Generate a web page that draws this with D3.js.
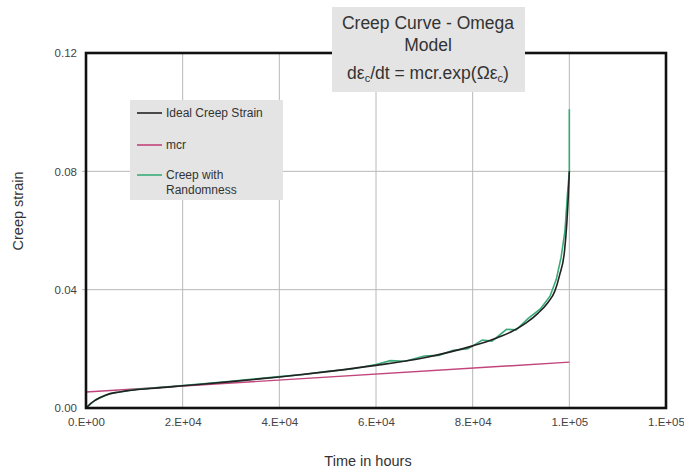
<!DOCTYPE html>
<html><head><meta charset="utf-8">
<script src="https://cdn.jsdelivr.net/npm/d3@7"></script>
<style>body{margin:0;background:#fff;} text{font-family:"Liberation Sans",Arial,sans-serif;}</style>
</head><body>
<svg id="c" width="684" height="471"></svg>
<script>
// Data
const idealT = [0,1000,2000,4000,6000,8000,10000,15000,20000,30000,40000,50000,60000,70000,80000,85000,88000,91000,93500,95500,97000,98000,99000,99500,99800,100000];
const idealS = [0,0.0016,0.0027,0.0043,0.0052,0.0057,0.0061,0.0068,0.0075,0.0089,0.0105,0.0123,0.0144,0.0170,0.0210,0.0237,0.0258,0.0287,0.0320,0.0355,0.0395,0.0450,0.0530,0.0630,0.0720,0.0800];
const mcrT = [0,100000];
const mcrS = [0.0054,0.0155];
const randT = [0,2000,5000,10000,20000,30000,40000,45000,50000,55000,60000,63000,66000,70000,73000,76000,79000,82000,84000,87000,89000,91500,94000,96000,97300,98300,99100,99600,100000,100000];
const randS = [0,0.0028,0.0049,0.0062,0.0076,0.0090,0.0106,0.0113,0.0124,0.0132,0.0147,0.0160,0.0158,0.0176,0.0178,0.0195,0.0200,0.0230,0.0226,0.0266,0.0264,0.0303,0.0335,0.0378,0.0435,0.0510,0.0600,0.0720,0.0800,0.1010];
const xTicks = [0,20000,40000,60000,80000,100000,120000];
const xTickLabels = ["0.E+00","2.E+04","4.E+04","6.E+04","8.E+04","1.E+05","1.E+05"];
const yTicks = [0,0.04,0.08,0.12];
const yTickLabels = ["0.00","0.04","0.08","0.12"];
const legendNames = ["Ideal Creep Strain","mcr","Creep with|Randomness"];
const colors = ["#222222","#c2447c","#3aaa78"];

const svg = d3.select("#c");
const L=86,R=666,T=53,B=408;
const x = d3.scaleLinear().domain([0,120000]).range([L,R]);
const y = d3.scaleLinear().domain([0,0.12]).range([B,T]);

// grid
const g = svg.append("g");
g.selectAll(".vg").data(xTicks.slice(1,-1)).join("line")
  .attr("x1",d=>x(d)).attr("x2",d=>x(d)).attr("y1",T).attr("y2",B)
  .attr("stroke","#b8b8b8").attr("stroke-width",1);
g.selectAll(".hg").data(yTicks.slice(1,-1)).join("line")
  .attr("x1",L-4).attr("x2",R).attr("y1",d=>y(d)).attr("y2",d=>y(d))
  .attr("stroke","#b8b8b8").attr("stroke-width",1);

// axes labels via d3 axes
const xAxis = d3.axisBottom(x).tickValues(xTicks).tickFormat((d,i)=>xTickLabels[i]).tickSize(0).tickPadding(10);
const ax = svg.append("g").attr("transform",`translate(0,${B})`).call(xAxis);
ax.select(".domain").remove();
ax.selectAll("text").attr("font-size",11.5).attr("fill","#444").style("font-family","Liberation Sans, Arial, sans-serif");
const yAxis = d3.axisLeft(y).tickValues(yTicks).tickFormat((d,i)=>yTickLabels[i]).tickSize(0).tickPadding(9);
const ay = svg.append("g").attr("transform",`translate(${L},0)`).call(yAxis);
ay.select(".domain").remove();
ay.selectAll("text").attr("font-size",11.5).attr("fill","#444").style("font-family","Liberation Sans, Arial, sans-serif");

// lines
const line = d3.line().x(d=>x(d[0])).y(d=>y(d[1]));
svg.append("path").datum(mcrT.map((t,i)=>[t,mcrS[i]])).attr("d",line)
  .attr("fill","none").attr("stroke",colors[1]).attr("stroke-width",1.4);
svg.append("path").datum(randT.map((t,i)=>[t,randS[i]])).attr("d",line.curve(d3.curveLinear))
  .attr("fill","none").attr("stroke",colors[2]).attr("stroke-width",1.6);
svg.append("path").datum(idealT.map((t,i)=>[t,idealS[i]]))
  .attr("d",d3.line().x(d=>x(d[0])).y(d=>y(d[1])).curve(d3.curveMonotoneX))
  .attr("fill","none").attr("stroke",colors[0]).attr("stroke-width",1.6);

// border
svg.append("rect").attr("x",L).attr("y",T).attr("width",R-L).attr("height",B-T)
  .attr("fill","none").attr("stroke","#111").attr("stroke-width",2.6);

// axis titles
svg.append("text").attr("x",(L+R)/2-8).attr("y",466).attr("text-anchor","middle")
  .attr("font-size",14.5).attr("fill","#333").text("Time in hours");
svg.append("text").attr("transform","translate(23,211) rotate(-90)").attr("text-anchor","middle")
  .attr("font-size",14.5).attr("fill","#333").text("Creep strain");

// title box
svg.append("rect").attr("x",332).attr("y",7).attr("width",193).attr("height",85).attr("fill","#e4e4e4");
const tc=428;
svg.append("text").attr("x",tc).attr("y",29).attr("text-anchor","middle").attr("font-size",17.5).attr("fill","#333").text("Creep Curve - Omega");
svg.append("text").attr("x",tc).attr("y",51).attr("text-anchor","middle").attr("font-size",17.5).attr("fill","#333").text("Model");
const ft = svg.append("text").attr("x",tc).attr("y",79).attr("text-anchor","middle").attr("font-size",17.5).attr("fill","#333");
ft.append("tspan").text("dε");
ft.append("tspan").attr("font-size",11).attr("dy",3).text("c");
ft.append("tspan").attr("dy",-3).text("/dt  = mcr.exp(Ωε");
ft.append("tspan").attr("font-size",11).attr("dy",3).text("c");
ft.append("tspan").attr("dy",-3).text(")");

// legend
svg.append("rect").attr("x",130).attr("y",100).attr("width",153).attr("height",100).attr("fill","#e4e4e4");
const ly=[113,145,175];
legendNames.forEach((n,i)=>{
  svg.append("line").attr("x1",137).attr("x2",162).attr("y1",ly[i]).attr("y2",ly[i])
    .attr("stroke",colors[i]).attr("stroke-width",1.6);
  const parts=n.split("|");
  parts.forEach((p,j)=>{
    svg.append("text").attr("x",166).attr("y",ly[i]+4+j*15).attr("font-size",12).attr("fill","#333").text(p);
  });
});
</script>
</body></html>
